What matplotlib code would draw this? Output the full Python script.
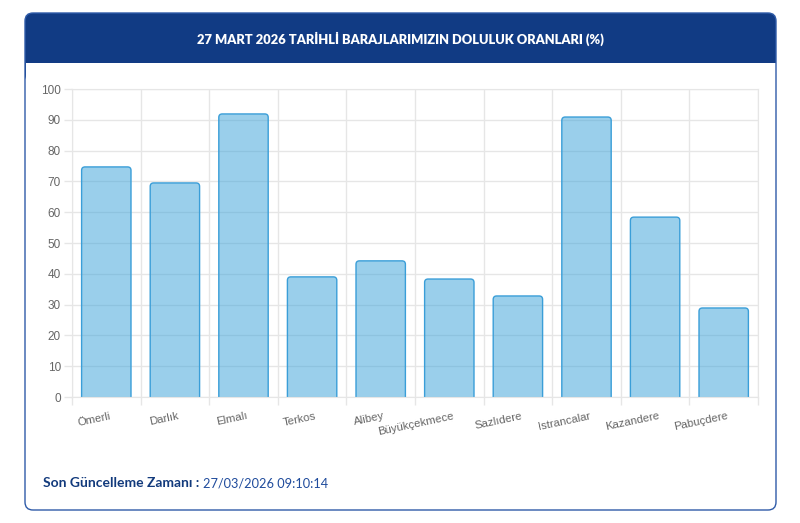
import matplotlib
matplotlib.use("Agg")
import matplotlib.pyplot as plt
from matplotlib.patches import FancyBboxPatch, Rectangle
from matplotlib.transforms import Affine2D, ScaledTranslation

# barajlar ve doluluk oranları (%)
barajlar = ['Ömerli', 'Darlık', 'Elmalı', 'Terkos', 'Alibey', 'Büyükçekmece',
            'Sazlıdere', 'Istrancalar', 'Kazandere', 'Pabuçdere']
doluluk = [74.7, 69.5, 91.9, 39.0, 44.2, 38.3, 32.8, 90.9, 58.4, 28.9]
yticks = list(range(0, 101, 10))

baslik = '27 MART 2026 TARİHLİ BARAJLARIMIZIN DOLULUK ORANLARI (%)'
guncelleme_etiket = 'Son Güncelleme Zamanı :'
guncelleme_zaman = '27/03/2026 09:10:14'

W, H = 800, 523
fig = plt.figure(figsize=(W / 100, H / 100), dpi=100)
fig.patch.set_facecolor('white')
# piksel koordinatları (sol üst köşe 0,0)
px = Affine2D().scale(1 / W, -1 / H).translate(0, 1) + fig.transFigure

lacivert = '#113b84'
cerceve = '#2f5ba8'

# kart ve başlık şeridi
fig.add_artist(FancyBboxPatch((25, 13), 751, 70, boxstyle='round,pad=0,rounding_size=8',
                              transform=px, fc=lacivert, ec='none', zorder=-5))
fig.add_artist(Rectangle((25.5, 63), 750, 25, transform=px, fc='white', ec='none', zorder=-4))
fig.add_artist(FancyBboxPatch((25, 13), 751, 497, boxstyle='round,pad=0,rounding_size=8',
                              transform=px, fc='none', ec=cerceve, lw=1.0, zorder=-3))
fig.text(400, 39, baslik, transform=px, ha='center', va='center', color='white',
         fontsize=9.3, fontweight='heavy', family='Lato')

t1 = fig.text(43, 483, guncelleme_etiket, transform=px, ha='left', va='center',
              color='#123a7c', fontsize=10, fontweight='bold', family='Lato')
fig.canvas.draw()
bb = t1.get_window_extent()
x2 = bb.x1 + 4
fig.text(x2 / W, 1 - 483 / H, guncelleme_zaman, ha='left', va='center',
         color='#1f4b9c', fontsize=9.2, family='Lato')

ax = fig.add_axes([72 / W, 1 - 397 / H, (758 - 72) / W, (397 - 89) / H])
ax.set_facecolor('none')
x = list(range(len(barajlar)))
dolgu = (55 / 255, 161 / 255, 217 / 255, 0.5)
kenar = '#3a9ed8'
bars = ax.bar(x, doluluk, width=0.72, color=dolgu, edgecolor=kenar, linewidth=1)
ax.set_xlim(-0.5, len(barajlar) - 0.5)
ax.set_ylim(0, 100)

# üstü yuvarlatılmış çubuklar
r = 0.05
asp = (686 / len(barajlar)) / (308 / 100)
for b in bars:
    bx, bw, bh = b.get_x(), b.get_width(), b.get_height()
    b.remove()
    ax.add_patch(FancyBboxPatch((bx, -3), bw, bh + 3,
                                boxstyle=f'round,pad=0,rounding_size={r}',
                                mutation_aspect=asp, fc=dolgu, ec=kenar, lw=1, zorder=2))

grid = '#e6e6e6'
ax.set_yticks(yticks)
ax.set_xticks(x)
ax.set_xticks([i - 0.5 for i in range(len(barajlar) + 1)], minor=True)
ax.set_xticklabels(barajlar, rotation=12, ha='right', rotation_mode='anchor',
                   color='#666666', fontsize=8.2, family='Liberation Sans')
ax.tick_params(axis='x', which='major', length=0, pad=10)
ax.tick_params(axis='x', which='minor', length=6, color=grid, width=1)
ax.tick_params(axis='y', length=6, color=grid, width=1, labelcolor='#666666',
               labelsize=8.5, pad=2)
for lab in ax.get_yticklabels():
    lab.set_family('Liberation Sans')
kaydir = ScaledTranslation(3 / 100, 0, fig.dpi_scale_trans)
for lab in ax.get_xticklabels():
    lab.set_transform(lab.get_transform() + kaydir)
ax.grid(True, axis='y', which='major', color=grid, lw=1, zorder=0)
ax.grid(True, axis='x', which='minor', color=grid, lw=1, zorder=0)
ax.set_axisbelow(True)
for s in ax.spines.values():
    s.set_color(grid)

fig.savefig('out.png', dpi=100)
